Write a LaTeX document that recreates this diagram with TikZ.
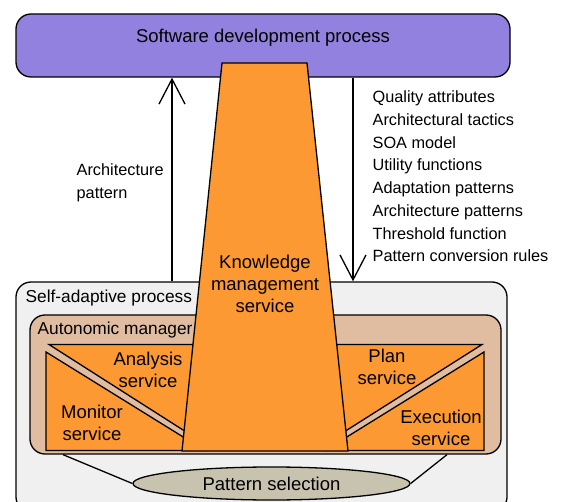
\documentclass[tikz,border=0pt]{standalone}
\usepackage{fontspec}
\setmainfont{Liberation Sans}
\usetikzlibrary{shapes.geometric,arrows.meta}

\definecolor{sdpfill}{RGB}{147,129,224}
\definecolor{kmsfill}{RGB}{253,153,51}
\definecolor{amfill}{RGB}{224,188,160}
\definecolor{sapfill}{RGB}{240,240,240}
\definecolor{psfill}{RGB}{200,195,175}

\newcommand{\bigtxt}{\fontsize{18.5}{22}\selectfont}
\newcommand{\listtxt}{\fontsize{16.3}{22.7}\selectfont}
\newcommand{\boxtxt}{\fontsize{17.3}{21}\selectfont}

\begin{document}
\begin{tikzpicture}[x=1pt, y=-1pt, line width=1.3pt,
  roundbox/.style={draw, rounded corners=15pt, inner sep=0pt},
  service/.style={draw, fill=kmsfill, line join=miter},
  svctext/.style={align=center, font=\bigtxt, inner sep=0pt},
  plaintext/.style={anchor=west, align=left, inner sep=0pt},
  >={Straight Barb[length=25pt,width=26pt]}]
\useasboundingbox (0,0) rectangle (565,502);

% outer boxes
\node[roundbox, fill=sdpfill, minimum width=494pt, minimum height=63pt] (sdp) at (263,45.5) {};
\node[svctext] (sdptext) at (263,38) {Software development process};
\node[roundbox, fill=sapfill, minimum width=491pt, minimum height=230pt] (sap) at (261.5,397) {};
\node[plaintext, font=\boxtxt] (saptext) at (25,298) {Self-adaptive process};
\node[roundbox, fill=amfill, minimum width=471pt, minimum height=139pt] (am) at (265.5,384.5) {};
\node[plaintext, font=\boxtxt] (amtext) at (37,330) {Autonomic manager};

% MAPE services
\draw[service] (49,344.5) -- (205,344.5) -- (205,444) -- cycle;
\draw[service] (46,352) -- (46,450.5) -- (205,450.5) -- cycle;
\draw[service] (482,344.5) -- (325,344.5) -- (325,444) -- cycle;
\draw[service] (484,352) -- (484,450.5) -- (325,450.5) -- cycle;

% knowledge trapezoid
\draw[service] (222,63) -- (307,63) -- (348,451) -- (182,451) -- cycle;
\node[svctext] (kms) at (265,284) {Knowledge\\management\\service};

\node[svctext] (ana) at (148,369.5) {Analysis\\service};
\node[svctext] (mon) at (92,423) {Monitor\\service};
\node[svctext] (pla) at (387,367) {Plan\\service};
\node[svctext] (exe) at (441,427.5) {Execution\\service};

% pattern selection
\node[ellipse, draw, fill=psfill, minimum width=277pt, minimum height=33pt, inner sep=0pt, font=\bigtxt] (ps) at (271.5,483.5) {Pattern selection};
\draw (ps.west) -- ([xshift=-202.5pt]am.south);
\draw (ps.east) -- ([xshift=181.5pt]am.south);

% exchanges with development process
\coordinate (archx) at (172,0);
\coordinate (infox) at (353,0);
\draw[->] (sap.north -| archx) -- (sdp.south -| archx);
\draw[->] (sdp.south -| infox) -- (sap.north -| infox);
\node[plaintext, font=\listtxt] (arch) at (76,182.5) {Architecture\\pattern};
\node[plaintext, font=\listtxt] (info) at (372,176.5) {Quality attributes\\Architectural tactics\\SOA model\\Utility functions\\Adaptation patterns\\Architecture patterns\\Threshold function\\Pattern conversion rules};
\end{tikzpicture}
\end{document}
